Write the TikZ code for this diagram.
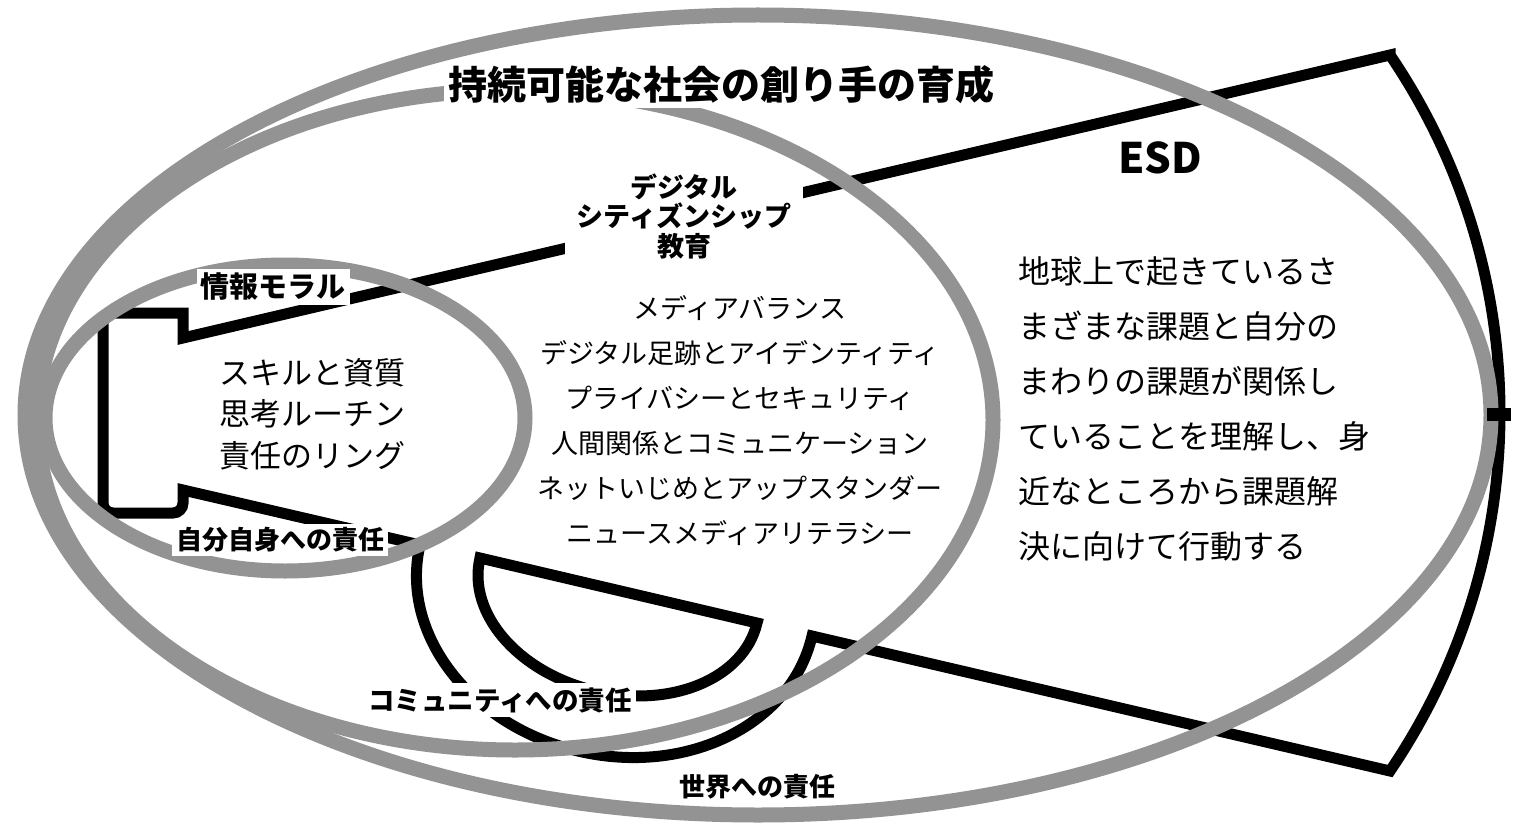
\documentclass[tikz,border=0pt]{standalone}
\usepackage{fontspec}
\usepackage{tikz}
\newfontfamily\jp{Noto Sans CJK JP}
\definecolor{RingGray}{RGB}{147,147,147}

\begin{document}
\begin{tikzpicture}[x=1pt, y=-1pt]

      \tikzstyle{Ring}=[draw=RingGray, line width=15pt];
      \tikzstyle{Ink}=[draw=black, line width=11pt];
      \tikzstyle{Lab}=[rectangle, fill=white, inner sep=4pt, align=center];
      \tikzstyle{Txt}=[inner sep=0pt, align=center];

        \useasboundingbox (0,0) rectangle (1526,829);

        % megaphone outline
        \draw[Ink] (1390,55) -- (183,338) -- (183,313) [rounded corners=10pt]
          -- (103,313) -- (103,513) -- (183,513) [sharp corners] -- (183,490)
          -- (420,545)
          .. controls (399.4,633.8) and (470.4,726.1) .. (578.7,751.2)
          .. controls (687,776.3) and (791.4,724.8) .. (812,636)
          -- (1390,771) arc[start angle=34.16, end angle=-34.16, radius=637.6]
          -- cycle;
        \draw[Ink] (480,558)
          .. controls (467,613.4) and (518.5,672.9) .. (595,690.8)
          .. controls (671.5,708.7) and (744,678.4) .. (757,623) -- cycle;

        \draw[Ring] (758,415) ellipse [x radius=733, y radius=400];
        \draw[Ring] (515,420) ellipse [x radius=478, y radius=330];
        \draw[Ring] (285,418) ellipse [x radius=240, y radius=153];

        \draw[Ink, line width=13pt] (1487,414) -- (1511,414);

        \node[Lab, font=\jp\bfseries\fontsize{39}{44}\selectfont](Title) at (721,85)
          {持続可能な社会の創り手の育成};
        \node[Txt, font=\jp\bfseries\fontsize{42}{46}\selectfont](Esd) at (1160,158) {ESD};
        \node[Lab, inner xsep=12pt, inner ysep=6pt, font=\jp\bfseries\fontsize{27}{29.5}\selectfont](DigiCit) at (684,216)
          {デジタル\\シティズンシップ\\教育};
        \node[Lab, font=\jp\bfseries\fontsize{29}{32}\selectfont](Moral) at (273,287) {情報モラル};
        \node[Lab, font=\jp\bfseries\fontsize{26}{29}\selectfont](SelfResp) at (280,540) {自分自身への責任};
        \node[Lab, font=\jp\bfseries\fontsize{26.5}{29}\selectfont](CommResp) at (500,700) {コミュニティへの責任};
        \node[Lab, font=\jp\bfseries\fontsize{26}{29}\selectfont](WorldResp) at (757,787) {世界への責任};

        \node[Txt, font=\jp\fontsize{31}{41.5}\selectfont](MoralText) at (312,414)
          {スキルと資質\\思考ルーチン\\責任のリング};
        \node[Txt, font=\jp\fontsize{27}{45}\selectfont](DigiList) at (740,421)
          {メディアバランス\\デジタル足跡とアイデンティティ\\プライバシーとセキュリティ\\%
           人間関係とコミュニケーション\\ネットいじめとアップスタンダー\\ニュースメディアリテラシー};
        \node[Txt, align=left, anchor=west, font=\jp\fontsize{32}{55}\selectfont](EsdText) at (1018,409)
          {地球上で起きているさ\\まざまな課題と自分の\\まわりの課題が関係し\\%
           ていることを理解し、身\\近なところから課題解\\決に向けて行動する};

\end{tikzpicture}
\end{document}
